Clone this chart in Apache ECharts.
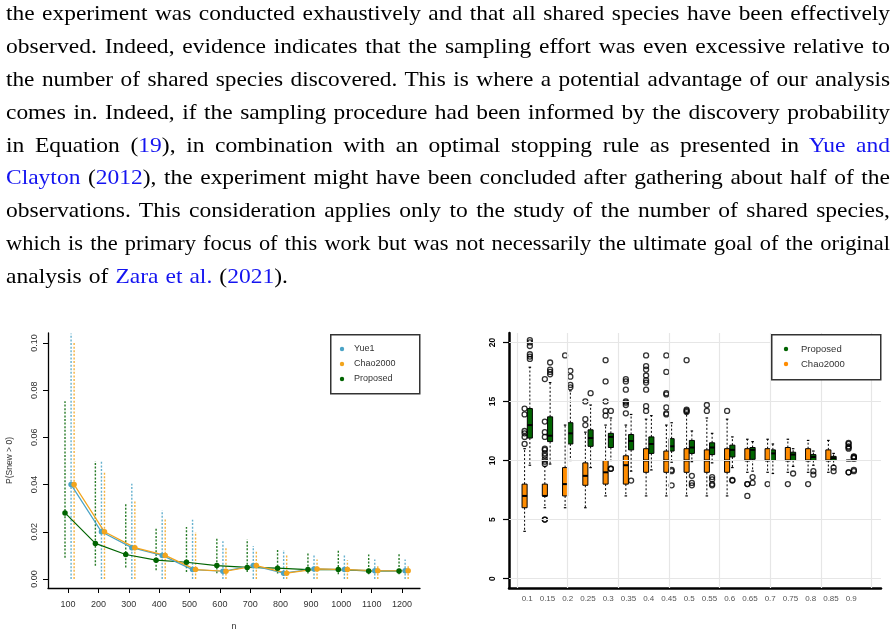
<!DOCTYPE html>
<html>
<head>
<meta charset="utf-8">
<script src="https://cdn.jsdelivr.net/npm/echarts@6/dist/echarts.min.js"></script>
<style>
html,body{margin:0;padding:0;background:#fff;width:896px;height:635px;overflow:hidden}
#chart{position:absolute;left:0;top:0;width:896px;height:635px}
#text{position:absolute;left:6px;top:-3px;width:884px;font-family:"Liberation Serif",serif;font-size:21px;line-height:32.9px;color:#000;z-index:2}
#text .ln{white-space:nowrap;height:32.9px}
#text .ln > span{display:inline-block;transform-origin:0 50%}
#text .lk{color:#1414f0}
</style>
</head>
<body>
<div id="chart"></div>
<div id="text">
<div class="ln"><span>the experiment was conducted exhaustively and that all shared species have been effectively</span></div>
<div class="ln"><span>observed. Indeed, evidence indicates that the sampling effort was even excessive relative to</span></div>
<div class="ln"><span>the number of shared species discovered. This is where a potential advantage of our analysis</span></div>
<div class="ln"><span>comes in. Indeed, if the sampling procedure had been informed by the discovery probability</span></div>
<div class="ln"><span>in Equation (<span class="lk">19</span>), in combination with an optimal stopping rule as presented in <span class="lk">Yue and</span></span></div>
<div class="ln"><span><span class="lk">Clayton</span> (<span class="lk">2012</span>), the experiment might have been concluded after gathering about half of the</span></div>
<div class="ln"><span>observations. This consideration applies only to the study of the number of shared species,</span></div>
<div class="ln"><span>which is the primary focus of this work but was not necessarily the ultimate goal of the original</span></div>
<div class="ln last"><span>analysis of <span class="lk">Zara et al.</span> (<span class="lk">2021</span>).</span></div>
</div>
<script>
// ---------- Left chart data: P(Snew > 0) vs n ----------
const nValues = [100, 200, 300, 400, 500, 600, 700, 800, 900, 1000, 1100, 1200];
const nTicks = [100, 200, 300, 400, 500, 600, 700, 800, 900, 1000, 1100, 1200];
const probTicks = [0, 0.02, 0.04, 0.06, 0.08, 0.10];

const yueMean = [0.040, 0.020, 0.0133, 0.0100, 0.0040, 0.0033, 0.0057, 0.0025, 0.0043, 0.0040, 0.0035, 0.0035];
const yueLow  = [0, 0, 0, 0, 0, 0, 0, 0, 0, 0, 0, 0];
const yueHigh = [0.104, 0.050, 0.0404, 0.029, 0.0251, 0.016, 0.014, 0.0123, 0.0101, 0.0101, 0.0083, 0.0083];

const chaoMean = [0.040, 0.020, 0.0133, 0.0100, 0.0040, 0.0033, 0.0057, 0.0025, 0.0043, 0.0040, 0.0035, 0.0035];
const chaoLow  = [0, 0, 0, 0, 0, 0, 0, 0, 0, 0, 0, 0];
const chaoHigh = [0.100, 0.0456, 0.0329, 0.0254, 0.0199, 0.0136, 0.0116, 0.0101, 0.0083, 0.0080, 0.0061, 0.0061];

const propMean = [0.028, 0.0151, 0.0104, 0.0080, 0.0071, 0.0057, 0.0049, 0.0046, 0.0040, 0.0040, 0.0034, 0.0034];
const propLow  = [0.009, 0.0056, 0.0049, 0.0037, 0.0030, 0.0025, 0.0030, 0.0023, 0.0023, 0.0020, 0.0020, 0.0020];
const propHigh = [0.0753, 0.0499, 0.0322, 0.022, 0.022, 0.0174, 0.0169, 0.0126, 0.0109, 0.0126, 0.0104, 0.0106];

const leftLegend = ['Yue1', 'Chao2000', 'Proposed'];

// ---------- Right chart data: boxplots per proportion ----------
const pCats = ['0.1', '0.15', '0.2', '0.25', '0.3', '0.35', '0.4', '0.45', '0.5', '0.55', '0.6', '0.65', '0.7', '0.75', '0.8', '0.85', '0.9'];
const countTicks = [0, 5, 10, 15, 20];
// [lower whisker, q1, median, q3, upper whisker]
const chaoBox = [
  [4, 6, 7, 8, 11], [6, 7, 7, 8, 9.5], [6, 7, 8, 9.4, 13], [6, 7.9, 8.7, 9.8, 12.4],
  [7, 8, 9, 10, 13], [7, 8, 9.6, 10.4, 13], [7, 9, 10, 11, 13.5], [7, 9, 10, 10.8, 13],
  [7, 9, 10, 11, 14], [7, 9, 10, 10.9, 13.6], [7, 9, 10, 11, 13.5], [9, 10, 10, 11, 11.8],
  [9, 10, 10, 11, 11.8], [9, 10, 10, 11.1, 11.8], [9, 10, 10, 11, 11.7], [9, 10, 10, 10.9, 11.7],
  [10, 10, 10, 10, 10]
];
const chaoOut = [
  [11.4, 12.0, 12.3, 12.5, 13.9, 14.4], [5, 5, 9.7, 9.9, 10.1, 10.4, 10.6, 10.9, 11.0, 12.0, 12.4, 13.3, 16.9],
  [18.9], [13, 13.5, 15], [13.8, 14.2, 15, 16.7, 18.5], [14, 14.7, 14.9, 15, 16, 16.7, 16.9],
  [14.2, 14.6, 16, 16.6, 16.8, 17.2, 17.7, 18, 18.9], [13.9, 14, 14.5, 15.6, 15.7, 17.5, 18.9],
  [14.1, 14.2, 14.3, 18.5], [14.2, 14.7], [14.2], [8, 8, 7], [8], [8], [8], [],
  [9, 9, 11, 11.1, 11.2, 11.4, 11.5]
];
const propBox = [
  [9.6, 11.9, 13.0, 14.4, 17.9], [9.7, 11.6, 12.1, 13.7, 16.6], [10.0, 11.4, 12.3, 13.2, 15.9],
  [9.4, 11.2, 11.9, 12.6, 14.7], [10.0, 11.1, 12.0, 12.3, 13.6], [9.1, 10.9, 11.65, 12.2, 13.9],
  [9.2, 10.6, 11.4, 12.0, 13.8], [9.85, 10.8, 11.2, 11.85, 13.2], [9.9, 10.6, 11.1, 11.7, 12.5],
  [9.8, 10.5, 11.1, 11.5, 12.3], [9.4, 10.3, 10.9, 11.3, 12.0], [9.1, 10.1, 10.9, 11.1, 11.6],
  [8.9, 10.0, 10.6, 10.9, 11.4], [9.5, 10.0, 10.5, 10.7, 11.0], [9.6, 10.0, 10.3, 10.5, 10.8],
  [9.6, 10.0, 10.2, 10.35, 10.6], [10, 10, 10, 10, 10]
];
const propOut = [
  [18.6, 18.8, 19.0, 19.7, 20.0, 20.2], [17.3, 17.5, 17.7, 18.3], [16.2, 16.4, 17.1, 17.6], [15.7],
  [14.2, 9.3, 9.3], [8.3], [], [9.1, 9.2, 7.9], [8.7, 8.1, 7.9], [8.6, 8.4, 8.0, 7.9], [8.3, 8.35],
  [8.6, 8.1], [], [8.9], [9.1, 8.8], [9.4, 9.1], [10.2, 10.25, 10.3, 10.35, 9.2, 9.1]
];
const rightLegend = ['Proposed', 'Chao2000'];
const gridX = [-0.5, 2, 4.5, 7, 9.5, 12, 14.5, 17];

// ---------- justify text lines (widened glyphs like Computer Modern) ----------
(function () {
  const W = 884, S = 1.12;
  const lines = document.querySelectorAll('#text .ln');
  lines.forEach(function (ln) {
    const sp = ln.firstElementChild;
    const w = sp.getBoundingClientRect().width;
    const n = (sp.textContent.match(/ /g) || []).length;
    if (ln.classList.contains('last')) {
      sp.style.transform = 'scaleX(' + S + ')';
      sp.style.wordSpacing = '1px';
      return;
    }
    const s = Math.min(S, W / (w + n * 1.5));
    sp.style.wordSpacing = ((W / s - w) / n) + 'px';
    sp.style.transform = 'scaleX(' + s + ')';
  });
})();

// ---------- colours ----------
const cBlue = '#4aa3c6', cOrange = '#f2a41c', cGreen = '#006400';
const cBoxOrange = '#ff8c00', cBoxGreen = '#006400';
const font = 'Liberation Sans';

function errSeries(name, means, lows, highs, off, color) {
  return {
    type: 'custom', name: name, xAxisIndex: 0, yAxisIndex: 0, z: 2,
    data: nValues.map(function (n, i) { return [n + off, lows[i], highs[i]]; }),
    encode: { x: 0, y: [1, 2] },
    renderItem: function (params, api) {
      const x = api.value(0);
      const a = api.coord([x, api.value(1)]);
      const b = api.coord([x, api.value(2)]);
      return { type: 'line', shape: { x1: a[0], y1: a[1], x2: b[0], y2: b[1] },
        style: { stroke: color, lineWidth: 1.4, lineDash: [2, 1.6], opacity: 0.85 } };
    }
  };
}
function meanSeries(name, means, off, color) {
  return {
    type: 'line', name: name, xAxisIndex: 0, yAxisIndex: 0, z: 3,
    data: nValues.map(function (n, i) { return [n + off, means[i]]; }),
    symbol: 'circle', symbolSize: 5.5, showSymbol: true,
    itemStyle: { color: color }, lineStyle: { color: color, width: 1.2 }
  };
}
function boxSeries(name, stats, off, fill) {
  return {
    type: 'custom', name: name, xAxisIndex: 1, yAxisIndex: 1, z: 3,
    data: pCats.map(function (c, i) { return [i + off].concat(stats[i]); }),
    encode: { x: 0, y: [1, 2, 3, 4, 5] },
    renderItem: function (params, api) {
      const x = api.value(0);
      const hw = 0.125;
      const tl = api.coord([x - hw, api.value(4)]);
      const br = api.coord([x + hw, api.value(2)]);
      const lo = api.coord([x, api.value(1)]);
      const hi = api.coord([x, api.value(5)]);
      const md = api.coord([x, api.value(3)]);
      const cx = lo[0];
      const w = br[0] - tl[0];
      const sw = w * 0.25;
      const dash = { stroke: '#000', lineWidth: 1, lineDash: [2, 2] };
      return {
        type: 'group',
        children: [
          { type: 'line', shape: { x1: cx, y1: br[1], x2: cx, y2: lo[1] }, style: dash },
          { type: 'line', shape: { x1: cx, y1: tl[1], x2: cx, y2: hi[1] }, style: dash },
          { type: 'line', shape: { x1: cx - sw, y1: lo[1], x2: cx + sw, y2: lo[1] }, style: { stroke: '#000', lineWidth: 1.2 } },
          { type: 'line', shape: { x1: cx - sw, y1: hi[1], x2: cx + sw, y2: hi[1] }, style: { stroke: '#000', lineWidth: 1.2 } },
          { type: 'rect', shape: { x: tl[0], y: tl[1], width: w, height: Math.max(br[1] - tl[1], 0) },
            style: { fill: fill, stroke: '#000', lineWidth: 1 } },
          { type: 'line', shape: { x1: tl[0], y1: md[1], x2: br[0], y2: md[1] }, style: { stroke: '#000', lineWidth: 2 } }
        ]
      };
    }
  };
}
function outSeries(name, outs, off) {
  const d = [];
  outs.forEach(function (arr, i) { arr.forEach(function (v) { d.push([i + off, v]); }); });
  return {
    type: 'scatter', name: name + ' outliers', xAxisIndex: 1, yAxisIndex: 1, z: 4,
    data: d, symbol: 'circle', symbolSize: 5,
    itemStyle: { color: 'rgba(0,0,0,0)', borderColor: '#000', borderWidth: 1.3 }
  };
}

const chart = echarts.init(document.getElementById('chart'), null, { renderer: 'canvas' });

const legendGraphics = [];
function addLegend(x, y, w, h, names, colors, rowYs, dotX, textX, fs) {
  legendGraphics.push({ type: 'rect', left: x, top: y, shape: { width: w, height: h },
    style: { fill: '#fff', stroke: '#333', lineWidth: 1.5 }, z: 10 });
  names.forEach(function (nm, i) {
    legendGraphics.push({ type: 'circle', x: dotX, y: rowYs[i], shape: { cx: 0, cy: 0, r: 2.2 },
      style: { fill: colors[i] }, z: 11 });
    legendGraphics.push({ type: 'text', x: textX, y: rowYs[i],
      style: { text: nm, fill: '#333', font: fs + 'px "Liberation Sans"', textVerticalAlign: 'middle', verticalAlign: 'middle' }, z: 11 });
  });
}
addLegend(330, 334, 89, 59, leftLegend, [cBlue, cOrange, cGreen], [349, 364, 379], 342, 354, 9);
addLegend(771, 334, 109, 45, rightLegend, [cBoxGreen, cBoxOrange], [349, 364], 786, 801, 9.5);

const option = {
  animation: false,
  backgroundColor: 'transparent',
  grid: [
    { left: 48, top: 333, width: 372, height: 255 },
    { left: 509, top: 333, width: 372, height: 255 }
  ],
  xAxis: [
    {
      gridIndex: 0, type: 'value', min: 34, max: 1259,
      axisLine: { onZero: false, lineStyle: { color: '#000', width: 1.3 } },
      axisTick: { customValues: nTicks, length: 5, lineStyle: { color: '#000', width: 1 } },
      axisLabel: { customValues: nTicks, margin: 12, fontSize: 9, color: '#333', fontFamily: font,
        formatter: function (v) { return String(Math.round(v)); } },
      splitLine: { show: false },
      name: 'n', nameLocation: 'middle', nameGap: 34,
      nameTextStyle: { fontSize: 9, color: '#333', fontFamily: font }
    },
    {
      gridIndex: 1, type: 'value', min: -0.9, max: 17.47,
      axisLine: { onZero: false, lineStyle: { color: '#000', width: 2.5 } },
      axisTick: { show: false },
      axisLabel: { customValues: pCats.map(function (c, i) { return i; }), margin: 7, fontSize: 8, color: '#555', fontFamily: font,
        formatter: function (v) { return pCats[Math.round(v)]; } },
      splitLine: { show: false }
    }
  ],
  yAxis: [
    {
      gridIndex: 0, type: 'value', min: -0.0038, max: 0.1042,
      axisLine: { show: true, onZero: false, lineStyle: { color: '#000', width: 1.3 } },
      axisTick: { show: true, customValues: probTicks, length: 5, lineStyle: { color: '#000', width: 1 } },
      axisLabel: { customValues: probTicks, rotate: 90, margin: 9, fontSize: 9, color: '#333', fontFamily: font,
        formatter: function (v) { return v.toFixed(2); } },
      splitLine: { show: false },
      name: 'P(Snew > 0)', nameLocation: 'middle', nameGap: 34,
      nameTextStyle: { fontSize: 8.5, color: '#333', fontFamily: font }
    },
    {
      gridIndex: 1, type: 'value', min: -0.8, max: 20.8,
      axisLine: { show: true, onZero: false, lineStyle: { color: '#000', width: 2.5 } },
      axisTick: { show: true, customValues: countTicks, length: 6, lineStyle: { color: '#000', width: 1.2 } },
      axisLabel: { customValues: countTicks, rotate: 90, margin: 12, fontSize: 8.5, fontWeight: 'bold', color: '#000', fontFamily: font },
      splitLine: { show: false }
    }
  ],
  series: [
    {
      type: 'line', name: 'grid', xAxisIndex: 1, yAxisIndex: 1, data: [], z: 1, silent: true,
      markLine: {
        silent: true, symbol: ['none', 'none'], label: { show: false }, animation: false,
        lineStyle: { type: 'solid', color: '#e6e6e6', width: 1.2 },
        emphasis: { disabled: true },
        data: gridX.map(function (v) { return { xAxis: v }; }).concat(countTicks.map(function (v) { return { yAxis: v }; }))
      }
    },
    errSeries('Proposed', propMean, propLow, propHigh, -10, cGreen),
    errSeries('Yue1', yueMean, yueLow, yueHigh, 10, cBlue),
    errSeries('Chao2000', chaoMean, chaoLow, chaoHigh, 20, cOrange),
    meanSeries('Proposed', propMean, -10, cGreen),
    meanSeries('Yue1', yueMean, 10, cBlue),
    meanSeries('Chao2000', chaoMean, 20, cOrange),
    boxSeries('Chao2000', chaoBox, -0.13, cBoxOrange),
    boxSeries('Proposed', propBox, 0.13, cBoxGreen),
    outSeries('Chao2000', chaoOut, -0.13),
    outSeries('Proposed', propOut, 0.13)
  ],
  graphic: legendGraphics
};
chart.setOption(option);
</script>
</body>
</html>
